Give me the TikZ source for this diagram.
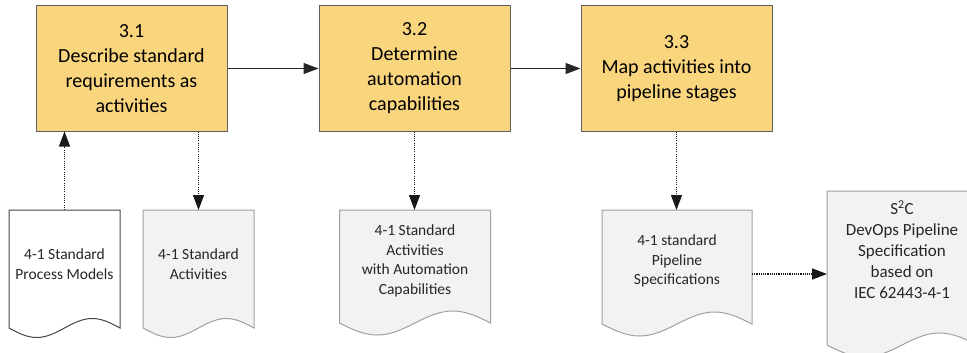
\documentclass[tikz,border=0pt]{standalone}
\usepackage{fontspec}
\setmainfont{Carlito}
\usetikzlibrary{arrows.meta,calc}
\definecolor{boxfill}{RGB}{249,213,126}
\definecolor{boxline}{RGB}{95,95,95}
\definecolor{docfill}{RGB}{242,242,242}
\definecolor{docline}{RGB}{160,160,160}
\definecolor{docdark}{RGB}{70,70,70}
\definecolor{doctext}{RGB}{38,38,38}
\newcommand{\docpath}[3]{(#1.north west) -- (#1.north east) -- (#1.south east)
  sin ++({-#2/4},{-#3}) cos ++({-#2/4},{#3}) sin ++({-#2/4},{#3}) cos ++({-#2/4},{-#3}) -- cycle}
\tikzset{
  stepbox/.style={draw=boxline, line width=1pt, fill=boxfill, minimum width=191pt,
    minimum height=125pt, inner sep=0pt, align=center, text=black,
    font=\fontsize{20}{25}\selectfont},
  docarea/.style={inner sep=0pt, outer sep=0pt},
  docgray/.style={draw=docline, line width=1pt, fill=docfill},
  docwhite/.style={draw=docdark, line width=1pt, fill=white},
  doctxt/.style={align=center, text=doctext, inner sep=0pt, font=\fontsize{15.5}{19.5}\selectfont},
  flow/.style={draw=black!85, line width=1pt, -{Triangle[length=15pt,width=11pt]}},
  dotflow/.style={draw=black!90, line width=1.4pt, dash pattern=on 1.1pt off 1.1pt,
    -{Triangle[length=15pt,width=11pt]}, shorten >=0pt}
}
\begin{document}
\begin{tikzpicture}[x=1pt, y=-1pt]
\useasboundingbox (0,0) rectangle (967,353);
% process steps
\node[stepbox] (b1) at (131.5,68.5) {3.1\\Describe standard\\requirements as\\activities};
\node[stepbox] (b2) at (414.5,68.5) {3.2\\Determine\\automation\\capabilities};
\node[stepbox] (b3) at (676.5,68.5) {3.3\\Map activities into\\pipeline stages};
% document areas
\node[docarea, minimum width=111pt, minimum height=118pt] (d1) at (64.5,269) {};
\node[docarea, minimum width=111pt, minimum height=118pt] (d2) at (198.5,269) {};
\node[docarea, minimum width=151pt, minimum height=113pt] (d3) at (415,266.5) {};
\node[docarea, minimum width=150pt, minimum height=114pt] (d4) at (677,267) {};
\node[docarea, minimum width=150pt, minimum height=154pt] (d5) at (902,268) {};
\path[docwhite] \docpath{d1}{111}{9.5};
\path[docgray] \docpath{d2}{111}{9.5};
\path[docgray] \docpath{d3}{151}{12};
\path[docgray] \docpath{d4}{150}{12};
\path[docgray] \docpath{d5}{150}{12};
% document texts
\node[doctxt] (t1) at (64.5,264) {4-1 Standard\\Process Models};
\node[doctxt] (t2) at (198.5,264) {4-1 Standard\\Activities};
\node[doctxt] (t3) at (415,261) {4-1 Standard\\Activities\\with Automation\\Capabilities};
\node[doctxt] (t4) at (677,261) {4-1 standard\\Pipeline\\Specifications};
\node[doctxt, font=\fontsize{17}{21}\selectfont] (t5) at (902,250) {S\textsuperscript{2}C\\DevOps Pipeline\\Specification\\based on\\IEC 62443-4-1};
% connectors
\draw[flow] (b1.east) -- (b2.west);
\draw[flow] (b2.east) -- (b3.west);
\draw[dotflow] (d1.north) -- (d1.north |- b1.south);
\draw[dotflow] (b1.south -| d2.north) -- (d2.north);
\draw[dotflow] (b2.south) -- (b2.south |- d3.north);
\draw[dotflow] (b3.south) -- (b3.south |- d4.north);
\coordinate (c4) at ($(d4.east)+(0,7)$);
\draw[dotflow] (c4) -- (c4 -| d5.west);
\end{tikzpicture}
\end{document}
